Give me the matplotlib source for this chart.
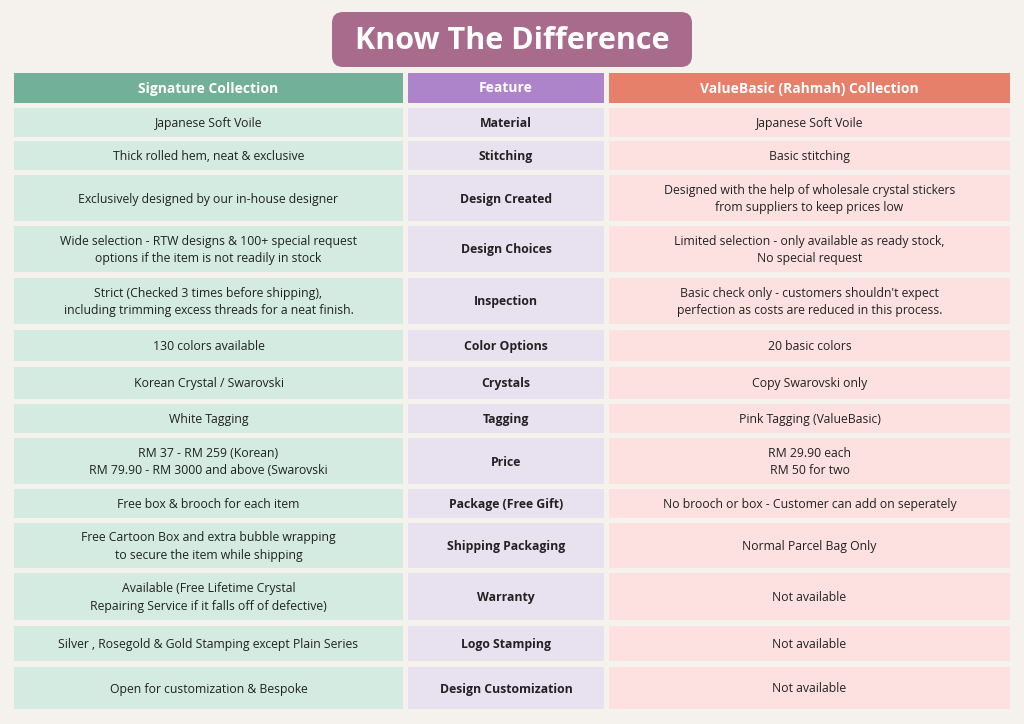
import matplotlib.pyplot as plt
from matplotlib.patches import Rectangle, FancyBboxPatch

plt.rcParams["font.family"] = "Open Sans"

title = "Know The Difference"
headers = ["Signature Collection", "Feature", "ValueBasic (Rahmah) Collection"]

features = ["Material", "Stitching", "Design Created", "Design Choices", "Inspection",
            "Color Options", "Crystals", "Tagging", "Price", "Package (Free Gift)",
            "Shipping Packaging", "Warranty", "Logo Stamping", "Design Customization"]

signature = [
    "Japanese Soft Voile",
    "Thick rolled hem, neat & exclusive",
    "Exclusively designed by our in-house designer",
    "Wide selection - RTW designs & 100+ special request\noptions if the item is not readily in stock",
    "Strict (Checked 3 times before shipping),\nincluding trimming excess threads for a neat finish.",
    "130 colors available",
    "Korean Crystal / Swarovski",
    "White Tagging",
    "RM 37 - RM 259 (Korean)\nRM 79.90 - RM 3000 and above (Swarovski",
    "Free box & brooch for each item",
    "Free Cartoon Box and extra bubble wrapping\nto secure the item while shipping",
    "Available (Free Lifetime Crystal\nRepairing Service if it falls off of defective)",
    "Silver , Rosegold & Gold Stamping except Plain Series",
    "Open for customization & Bespoke",
]

valuebasic = [
    "Japanese Soft Voile",
    "Basic stitching",
    "Designed with the help of wholesale crystal stickers\nfrom suppliers to keep prices low",
    "Limited selection - only available as ready stock,\nNo special request",
    "Basic check only - customers shouldn't expect\nperfection as costs are reduced in this process.",
    "20 basic colors",
    "Copy Swarovski only",
    "Pink Tagging (ValueBasic)",
    "RM 29.90 each\nRM 50 for two",
    "No brooch or box - Customer can add on seperately",
    "Normal Parcel Bag Only",
    "Not available",
    "Not available",
    "Not available",
]

# layout (pixels)
row_bounds = [(108, 137), (141, 170), (175, 221), (226, 272), (278, 324), (330, 361),
              (367, 399), (404, 433), (438, 484), (489, 518), (523, 568), (573, 620),
              (626, 661), (667, 709)]
cols = [(14, 403), (408, 604), (609, 1010)]
head_colors = ["#72b09a", "#ad84c9", "#e6806a"]
cell_colors = ["#d3ebe1", "#e8e1ef", "#fde1e1"]

fig = plt.figure(figsize=(10.24, 7.24), dpi=100, facecolor="#f5f2ee")
ax = fig.add_axes([0, 0, 1, 1])
ax.set_xlim(0, 1024)
ax.set_ylim(724, 0)
ax.axis("off")

ax.add_patch(FancyBboxPatch((332, 12), 360, 55, boxstyle="round,pad=0,rounding_size=11",
                            fc="#a96b8c", ec="none"))
ax.text(512, 41, title, ha="center", va="center", color="white", fontsize=22, fontweight="bold")

for (x0, x1), c, h in zip(cols, head_colors, headers):
    ax.add_patch(Rectangle((x0, 73), x1 - x0, 30, fc=c, ec="none"))
    ax.text((x0 + x1) / 2, 88.5, h, ha="center", va="center", color="white",
            fontsize=10, fontweight="bold")

for i, (y0, y1) in enumerate(row_bounds):
    texts = [signature[i], features[i], valuebasic[i]]
    for j, ((x0, x1), c) in enumerate(zip(cols, cell_colors)):
        ax.add_patch(Rectangle((x0, y0), x1 - x0, y1 - y0, fc=c, ec="none"))
        ax.text((x0 + x1) / 2, (y0 + y1) / 2 + 1, texts[j], ha="center", va="center",
                fontsize=8.8, color="#222222", linespacing=1.45,
                fontweight="bold" if j == 1 else "normal")

fig.savefig("out.png", dpi=100, facecolor=fig.get_facecolor())
